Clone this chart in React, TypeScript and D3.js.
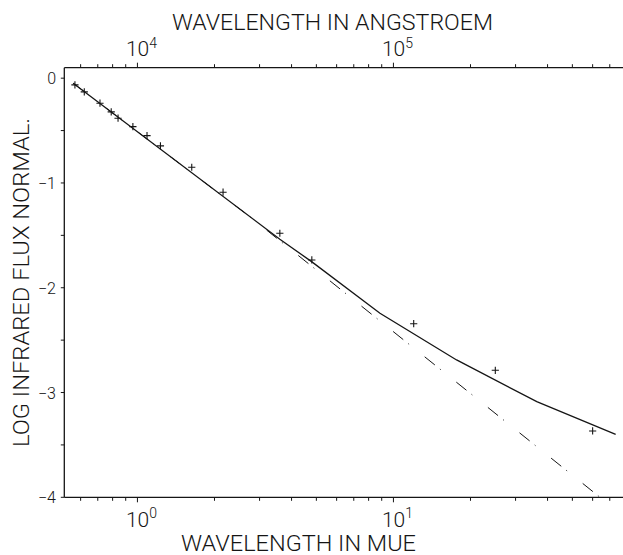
import React from "react";
import * as d3 from "d3";

// Observed photometry (wavelength in micron, log normalised IR flux)
const obsWavelength = [0.57, 0.62, 0.714, 0.79, 0.84, 0.96, 1.09, 1.23, 1.63, 2.16, 3.6, 4.8, 12, 25, 60];
const obsLogFlux = [-0.064, -0.131, -0.239, -0.322, -0.382, -0.462, -0.548, -0.646, -0.85, -1.088, -1.48, -1.735, -2.343, -2.788, -3.367];

// Model curve (solid)
const modelWavelength = [0.561, 3.6, 4.79, 8.86, 17.65, 36.3, 73.8];
const modelLogFlux = [-0.048, -1.537, -1.751, -2.243, -2.689, -3.087, -3.399];

// Power-law extrapolation (dash-dot)
const powerWavelength = [0.561, 2.75, 64.1];
const powerLogFlux = [-0.048, -1.322, -4.0];

// Axis ticks / labels
const bottomDecades = [1, 10];
const bottomExponents = ["0", "1"];
const topDecadesAngstrom = [1e4, 1e5];
const topExponents = ["4", "5"];
const yLabelValues = [0, -1, -2, -3, -4];
const yLabelText = ["0", "\u22121", "\u22122", "\u22123", "\u22124"];
const yTickValues = [0, -0.5, -1, -1.5, -2, -2.5, -3, -3.5, -4];

const W = 623;
const H = 555;
const left = 64.3;
const top = 67.7;
const bottom = 497.3;
const decade = 256;
const xMin = 0.518;
const xMax = 100;

const FONT = "Roboto, 'DejaVu Sans', sans-serif";
const INK = "#151515";

export default function App() {
  const x = d3
    .scaleLog()
    .domain([xMin, xMax])
    .range([left, left + decade * Math.log10(xMax / xMin)]);
  const y = d3.scaleLinear().domain([-4, 0.1]).range([bottom, top]);

  const line = d3
    .line<[number, number]>()
    .x((d) => x(d[0]))
    .y((d) => y(d[1]));

  const modelPath = line(modelWavelength.map((w, i) => [w, modelLogFlux[i]]) as [number, number][]);
  const powerPath = line(powerWavelength.map((w, i) => [w, powerLogFlux[i]]) as [number, number][]);

  const xTicks = x.ticks().filter((t) => t >= xMin && t <= xMax);
  const rightX = x(xMax);

  const cross = (cx: number, cy: number, r = 3.6) =>
    `M${cx - r},${cy}H${cx + r}M${cx},${cy - r}V${cy + r}`;

  return (
    <svg
      width={W}
      height={H}
      style={{ position: "absolute", left: 0, top: 0, background: "#fff" }}
      fontFamily={FONT}
    >
      <rect x={0} y={0} width={W} height={H} fill="#fff" />
      {/* frame */}
      <g stroke={INK} strokeWidth={1.3} fill="none">
        <line x1={left} y1={top} x2={rightX} y2={top} />
        <line x1={left} y1={bottom} x2={rightX} y2={bottom} />
        <line x1={left} y1={top} x2={left} y2={bottom} />
        <line x1={rightX} y1={top} x2={rightX} y2={bottom} />
      </g>
      {/* ticks */}
      <g stroke={INK} strokeWidth={1}>
        {xTicks.map((t, i) => {
          const major = Math.abs(Math.log10(t) - Math.round(Math.log10(t))) < 1e-9;
          const len = major ? 5 : 3.5;
          return (
            <g key={i}>
              <line x1={x(t)} x2={x(t)} y1={bottom} y2={bottom + len} />
              <line x1={x(t)} x2={x(t)} y1={top} y2={top - len} />
            </g>
          );
        })}
        {yTickValues.map((v, i) => (
          <line key={i} x1={left - 3.5} x2={left} y1={y(v)} y2={y(v)} />
        ))}
      </g>
      {/* x tick labels */}
      <g fill={INK} fontSize={21} fontWeight={300}>
        {bottomDecades.map((d, i) => (
          <text key={i} x={x(d) + 4} y={527} textAnchor="middle">
            10
            <tspan dy={-9} fontSize={14}>
              {bottomExponents[i]}
            </tspan>
          </text>
        ))}
        {topDecadesAngstrom.map((d, i) => (
          <text key={i} x={x(d / 1e4) + 4} y={56} textAnchor="middle">
            10
            <tspan dy={-8} fontSize={14}>
              {topExponents[i]}
            </tspan>
          </text>
        ))}
      </g>
      {/* y tick labels */}
      <g fill={INK} fontSize={16} fontWeight={300}>
        {yLabelValues.map((v, i) => (
          <text key={i} x={56} y={y(v) + 6} textAnchor="end">
            {yLabelText[i]}
          </text>
        ))}
      </g>
      {/* titles */}
      <g fill={INK} fontSize={22} fontWeight={300}>
        <text x={172} y={30} textLength={321} lengthAdjust="spacingAndGlyphs">
          WAVELENGTH IN ANGSTROEM
        </text>
        <text x={181} y={551} textLength={235} lengthAdjust="spacingAndGlyphs">
          WAVELENGTH IN MUE
        </text>
        <text
          transform="translate(29,447) rotate(-90)"
          x={0}
          y={0}
          textLength={329}
          lengthAdjust="spacingAndGlyphs"
        >
          LOG INFRARED FLUX NORMAL.
        </text>
      </g>
      {/* curves */}
      <path d={powerPath ?? ""} fill="none" stroke={INK} strokeWidth={1} strokeDasharray="13 6.5 1 20" />
      <path d={modelPath ?? ""} fill="none" stroke={INK} strokeWidth={1.3} />
      {/* observations */}
      <g stroke={INK} strokeWidth={1.1} fill="none">
        {obsWavelength.map((w, i) => (
          <path key={i} d={cross(x(w), y(obsLogFlux[i]))} />
        ))}
      </g>
    </svg>
  );
}
